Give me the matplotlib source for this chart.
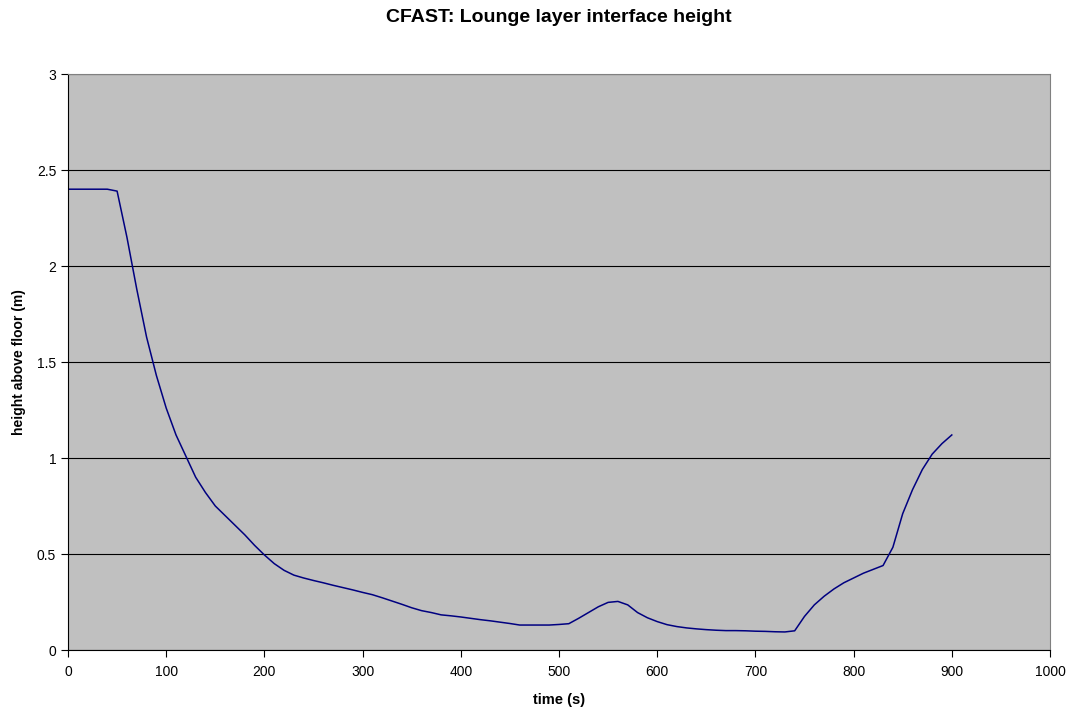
import matplotlib
matplotlib.use("Agg")
import matplotlib.pyplot as plt

time_s = list(range(0, 901, 10))
height_m = [2.40, 2.40, 2.40, 2.40, 2.40, 2.39, 2.15, 1.88, 1.63, 1.43,
            1.26, 1.12, 1.01, 0.90, 0.82, 0.75, 0.70, 0.65, 0.60, 0.545,
            0.495, 0.45, 0.415, 0.39, 0.375, 0.362, 0.35, 0.337, 0.325, 0.313,
            0.30, 0.288, 0.272, 0.255, 0.238, 0.22, 0.205, 0.195, 0.183, 0.178,
            0.172, 0.165, 0.158, 0.152, 0.145, 0.138, 0.130, 0.130, 0.130, 0.130,
            0.133, 0.137, 0.165, 0.195, 0.225, 0.248, 0.253, 0.235, 0.195, 0.168,
            0.148, 0.132, 0.122, 0.115, 0.110, 0.106, 0.103, 0.101, 0.101, 0.100,
            0.098, 0.097, 0.095, 0.094, 0.100, 0.175, 0.235, 0.28, 0.318, 0.35,
            0.375, 0.40, 0.42, 0.44, 0.535, 0.71, 0.835, 0.94, 1.02, 1.075, 1.12]

x_ticks = list(range(0, 1001, 100))
y_ticks = [0, 0.5, 1, 1.5, 2, 2.5, 3]
y_tick_labels = ["0", "0.5", "1", "1.5", "2", "2.5", "3"]

plt.rcParams['font.family'] = ['Liberation Sans', 'DejaVu Sans']

W, H = 1072, 714
fig = plt.figure(figsize=(W / 100, H / 100), dpi=100)
ax = fig.add_axes([68 / W, (H - 650) / H, (1050 - 68) / W, (650 - 74) / H])
ax.set_facecolor('#C0C0C0')
ax.plot(time_s, height_m, color='#000080', linewidth=1.1)
ax.set_xlim(0, 1000)
ax.set_ylim(0, 3)
ax.set_xticks(x_ticks)
ax.set_yticks(y_ticks)
ax.set_yticklabels(y_tick_labels)
ax.yaxis.grid(True, color='black', linewidth=0.8)
ax.set_axisbelow(True)
ax.tick_params(axis='both', direction='out', length=5, width=0.8, labelsize=10, color='black')
ax.tick_params(axis='x', pad=6)
for s in ['top', 'right']:
    ax.spines[s].set_color('#808080')
for s in ['left', 'bottom']:
    ax.spines[s].set_color('black')
ax.set_xlabel('time (s)', fontsize=10.5, fontweight='bold', labelpad=10)
ax.set_ylabel('height above floor (m)', fontsize=10, fontweight='bold', labelpad=8)
fig.text((68 + 1050) / 2 / W, 1 - 18 / H, 'CFAST: Lounge layer interface height',
         ha='center', va='center', fontsize=14, fontweight='bold')
fig.savefig('out.png', dpi=100)
